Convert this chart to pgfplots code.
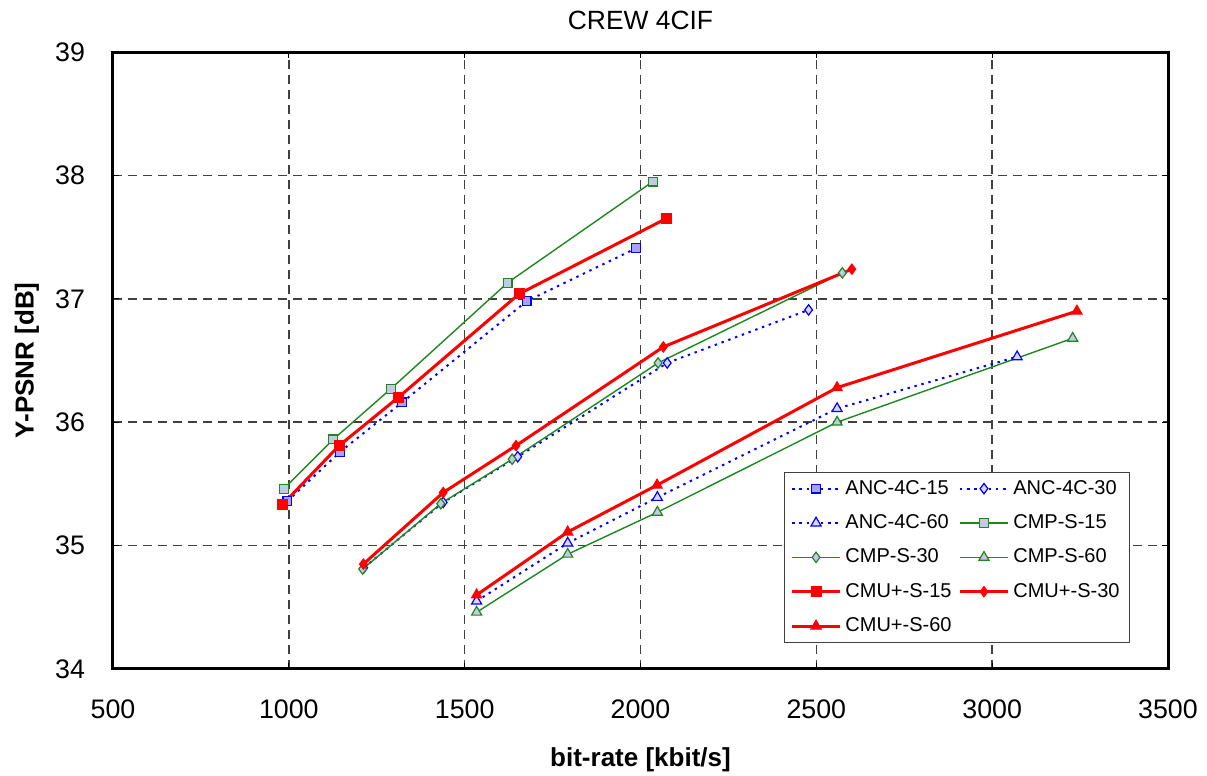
\documentclass[border=0pt]{standalone}
\usepackage{fontspec}
\setmainfont{Liberation Sans}
\usepackage{pgfplots}
\pgfplotsset{compat=1.18}
\definecolor{ancblue}{RGB}{0,0,255}
\definecolor{ancfillA}{RGB}{170,160,245}
\definecolor{ancfillB}{RGB}{215,215,255}
\definecolor{cmpgreen}{RGB}{30,135,30}
\definecolor{cmpfill}{RGB}{195,202,232}
\definecolor{cmured}{RGB}{255,0,0}
\begin{document}
\begin{tikzpicture}
\path[use as bounding box] (-56.5pt,-53.5pt) rectangle (547pt,334.5pt);
\begin{axis}[
  at={(0pt,0pt)}, anchor=south west,
  scale only axis, width=527.5pt, height=308.5pt,
  xmin=500, xmax=3500, ymin=34, ymax=39,
  xtick={500,1000,1500,2000,2500,3000,3500},
  ytick={34,35,36,37,38,39},
  /pgf/number format/assume math mode=true,
  /pgf/number format/1000 sep={},
  ticklabel style={font=\fontsize{13.4}{15}\selectfont},
  xticklabel shift=12pt,
  yticklabel shift=10.5pt,
  tick align=inside, major tick length=3pt, tick style={black, line width=0.6pt},
  axis line style={black, line width=1.5pt},
  grid=major,
  major grid style={black!75, line width=0.7pt, dash pattern=on 4.5pt off 3pt},
  title={CREW 4CIF},
  title style={font=\fontsize{13.2}{15}\selectfont, at={(0.5,1)}, anchor=center, yshift=10pt},
  xlabel={bit-rate [kbit/s]},
  xlabel style={font=\fontsize{13}{15}\selectfont\bfseries, at={(0.5,0)}, anchor=center, yshift=-45.5pt},
  ylabel={Y-PSNR [dB]},
  ylabel style={font=\fontsize{13}{15}\selectfont\bfseries, at={(0,0.5)}, anchor=center, yshift=43pt},
  legend columns=2,
  legend cell align=left,
  legend style={at={(0.964,0.042)}, anchor=south east, font=\fontsize{10}{12}\selectfont,
    draw=black!75, line width=0.5pt, row sep=4.7pt, inner xsep=3pt, inner ysep=2pt,
    /tikz/every even column/.append style={column sep=1.5pt}},
  legend image code/.code={\draw[mark repeat=2,mark phase=2] plot coordinates {(0cm,0cm) (0.42cm,0cm) (0.84cm,0cm)};},
]
% ANC-4C-15
\addplot[ancblue, line width=1pt, dash pattern=on 1.2pt off 2.4pt, mark=square*, mark size=2.2pt,
  mark options={solid, fill=ancfillA, draw=ancblue, line width=0.6pt}]
  coordinates {(996,35.36) (1146,35.76) (1322,36.16) (1676,36.98) (1988,37.41)};
\addlegendentry{ANC-4C-15}
% ANC-4C-30
\addplot[ancblue, line width=1pt, dash pattern=on 1.2pt off 2.4pt, mark=diamond*, mark size=2.6pt,
  mark options={solid, fill=ancfillB, draw=ancblue, line width=0.6pt}]
  coordinates {(1213,34.82) (1439,35.35) (1651,35.72) (2076,36.48) (2478,36.91)};
\addlegendentry{ANC-4C-30}
% ANC-4C-60
\addplot[ancblue, line width=1pt, dash pattern=on 1.2pt off 2.4pt, mark=triangle*, mark size=2.9pt,
  mark options={solid, fill=ancfillB, draw=ancblue, line width=0.6pt}]
  coordinates {(1534,34.55) (1793,35.02) (2048,35.39) (2559,36.11) (3071,36.53)};
\addlegendentry{ANC-4C-60}
% CMP-S-15
\addplot[cmpgreen, line width=0.7pt, mark=square*, mark size=2.2pt,
  mark options={solid, fill=cmpfill, draw=cmpgreen, line width=0.6pt}]
  coordinates {(986,35.46) (1126,35.86) (1290,36.27) (1622,37.13) (2035,37.95)};
\addlegendentry{CMP-S-15}
% CMP-S-30
\addplot[cmpgreen, line width=0.7pt, mark=diamond*, mark size=2.6pt,
  mark options={solid, fill=cmpfill, draw=cmpgreen, line width=0.6pt}]
  coordinates {(1210,34.81) (1432,35.34) (1635,35.70) (2050,36.48) (2574,37.21)};
\addlegendentry{CMP-S-30}
% CMP-S-60
\addplot[cmpgreen, line width=0.7pt, mark=triangle*, mark size=2.9pt,
  mark options={solid, fill=cmpfill, draw=cmpgreen, line width=0.6pt}]
  coordinates {(1534,34.46) (1793,34.93) (2048,35.27) (2559,36.00) (3229,36.68)};
\addlegendentry{CMP-S-60}
% CMU+-S-15
\addplot[cmured, line width=1.5pt, mark=square*, mark size=2.5pt,
  mark options={solid, fill=cmured, draw=cmured, line width=0.5pt}]
  coordinates {(981,35.33) (1143,35.81) (1311,36.20) (1655,37.04) (2073,37.65)};
\addlegendentry{CMU+-S-15}
% CMU+-S-30
\addplot[cmured, line width=1.5pt, mark=diamond*, mark size=2.6pt,
  mark options={solid, fill=cmured, draw=cmured, line width=0.5pt}]
  coordinates {(1212,34.85) (1439,35.43) (1646,35.81) (2065,36.61) (2601,37.24)};
\addlegendentry{CMU+-S-30}
% CMU+-S-60
\addplot[cmured, line width=1.5pt, mark=triangle*, mark size=3pt,
  mark options={solid, fill=cmured, draw=cmured, line width=0.5pt}]
  coordinates {(1534,34.60) (1793,35.11) (2047,35.49) (2559,36.28) (3241,36.90)};
\addlegendentry{CMU+-S-60}
\end{axis}
\end{tikzpicture}
\end{document}
